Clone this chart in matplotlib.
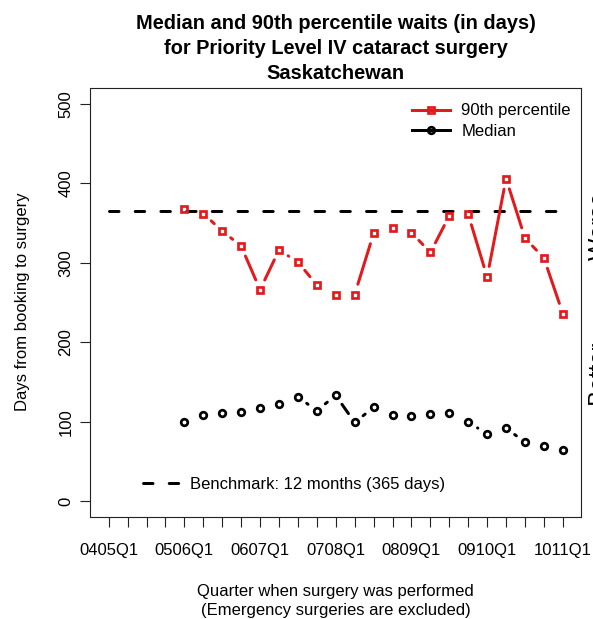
import matplotlib
matplotlib.use("Agg")
import matplotlib.pyplot as plt
import numpy as np

plt.rcParams['font.family'] = ['Liberation Sans', 'DejaVu Sans']
plt.rcParams['lines.scale_dashes'] = False

# ---- data ----
quarters = ['0405Q1', '0405Q2', '0405Q3', '0405Q4',
            '0506Q1', '0506Q2', '0506Q3', '0506Q4',
            '0607Q1', '0607Q2', '0607Q3', '0607Q4',
            '0708Q1', '0708Q2', '0708Q3', '0708Q4',
            '0809Q1', '0809Q2', '0809Q3', '0809Q4',
            '0910Q1', '0910Q2', '0910Q3', '0910Q4',
            '1011Q1']
tick_labels = ['0405Q1', '0506Q1', '0607Q1', '0708Q1', '0809Q1', '0910Q1', '1011Q1']
data_quarters = quarters[4:]
p90 = [368, 362, 340, 321, 266, 316, 301, 272, 259, 260, 337, 344, 338, 313,
       359, 361, 282, 406, 331, 306, 236]
median = [99, 109, 111, 112, 117, 122, 131, 114, 133, 99, 118, 108, 107, 110,
          111, 99, 85, 92, 74, 70, 64]
benchmark = 365
yticks = [0, 100, 200, 300, 400, 500]

RED = '#E3191C'
W, H = 593, 619
fig = plt.figure(figsize=(W / 100, H / 100), dpi=100)
ax = fig.add_axes([90.5 / W, 1 - 517 / H, (581 - 90.5) / W, (517 - 88) / H])

xpos = np.arange(len(quarters))
xd = np.array([quarters.index(q) for q in data_quarters])

ax.set_xlim(-0.96, len(quarters) - 1 + 0.96)
ax.set_ylim(-20, 520)

px = 72 / 100  # points per pixel
LW = 3 * px
SQ_MS, SQ_MEW = 6.8 * px, 2.7 * px
CI_MS, CI_MEW = 6.6 * px, 2.7 * px


def gapped(xs, ys, color, gap_px=10.8):
    """R type='b' style: segments shortened near the points."""
    pts = ax.transData.transform(np.column_stack([xs, ys]))
    inv = ax.transData.inverted()
    for (x0, y0), (x1, y1) in zip(pts[:-1], pts[1:]):
        dx, dy = x1 - x0, y1 - y0
        d = np.hypot(dx, dy)
        if d <= 2 * gap_px:
            continue
        a = inv.transform((x0 + gap_px * dx / d, y0 + gap_px * dy / d))
        b = inv.transform((x1 - gap_px * dx / d, y1 - gap_px * dy / d))
        ax.plot([a[0], b[0]], [a[1], b[1]], color=color, lw=LW,
                solid_capstyle='round', zorder=3)


gapped(xd, p90, RED)
gapped(xd, median, 'black')

ax.plot(xd, p90, linestyle='none', marker='s', ms=SQ_MS, mew=SQ_MEW,
        mec=RED, mfc='none', zorder=4)
ax.plot(xd, median, linestyle='none', marker='o', ms=CI_MS, mew=CI_MEW,
        mec='black', mfc='none', zorder=4)

dash = (0, (12.5 * px - LW, 13.2 * px + LW))
bench_line, = ax.plot([xpos[0], xpos[-1]], [benchmark, benchmark], color='black',
                      lw=LW, linestyle=dash, dash_capstyle='round', zorder=2)

# ---- axes styling ----
for s in ax.spines.values():
    s.set_linewidth(0.8)
    s.set_color('#222222')

ax.set_xticks(xpos)
ax.set_xticklabels([q if q in tick_labels else '' for q in quarters])
ax.set_yticks(yticks)
ax.set_yticklabels([str(v) for v in yticks])
ax.tick_params(axis='both', direction='out', length=10 * px, width=0.8,
               labelsize=12, color='#222222')
ax.tick_params(axis='x', pad=11.7)
ax.tick_params(axis='y', pad=5.0)
for lab in ax.get_yticklabels():
    lab.set_rotation(90)
    lab.set_va('center')
    lab.set_ha('right')

# ---- titles and labels ----
cx = (90.5 + 581) / 2 / W
title_lines = ['Median and 90th percentile waits (in days)',
               'for Priority Level IV cataract surgery',
               'Saskatchewan']
for i, t in enumerate(title_lines):
    fig.text(cx, 1 - (29 + 25 * i) / H, t, ha='center', va='baseline',
             fontsize=14.4, fontweight='bold')

fig.text(cx, 1 - 596 / H, 'Quarter when surgery was performed', ha='center',
         va='baseline', fontsize=12)
fig.text(cx, 1 - 615 / H, '(Emergency surgeries are excluded)', ha='center',
         va='baseline', fontsize=12)
fig.text(27 / W, 1 - 302 / H, 'Days from booking to surgery', rotation=90,
         rotation_mode='anchor', ha='center', va='baseline', fontsize=12)

fig.text(606 / W, 1 - 260 / H, 'Worse \u2192', rotation=90, rotation_mode='anchor',
         ha='left', va='baseline', fontsize=17)
fig.text(606 / W, 1 - 436 / H, '\u2190 Better', rotation=90, rotation_mode='anchor',
         ha='left', va='baseline', fontsize=17)

# ---- legends ----
h1, = ax.plot([], [], color=RED, lw=LW, marker='s', ms=SQ_MS, mew=SQ_MEW,
              mec=RED, mfc='none')
h2, = ax.plot([], [], color='black', lw=LW, marker='o', ms=CI_MS, mew=CI_MEW,
              mec='black', mfc='none')
leg1 = ax.legend([h1, h2], ['90th percentile', 'Median'], loc='upper left',
                 bbox_to_anchor=(412 / W, 1 - 103.5 / H),
                 bbox_transform=fig.transFigure, frameon=False, fontsize=12,
                 borderpad=0, borderaxespad=0, handlelength=2.25,
                 handletextpad=0.7, labelspacing=0.32, numpoints=1)
ax.add_artist(leg1)
hb, = ax.plot([], [], color='black', lw=LW, linestyle=dash, dash_capstyle='round')
ax.legend([hb], ['Benchmark: 12 months (365 days)'], loc='upper left',
          bbox_to_anchor=(143 / W, 1 - 476.5 / H), bbox_transform=fig.transFigure,
          frameon=False, fontsize=12, borderpad=0, borderaxespad=0,
          handlelength=2.25, handletextpad=0.6)

fig.savefig('out.png', dpi=100)
